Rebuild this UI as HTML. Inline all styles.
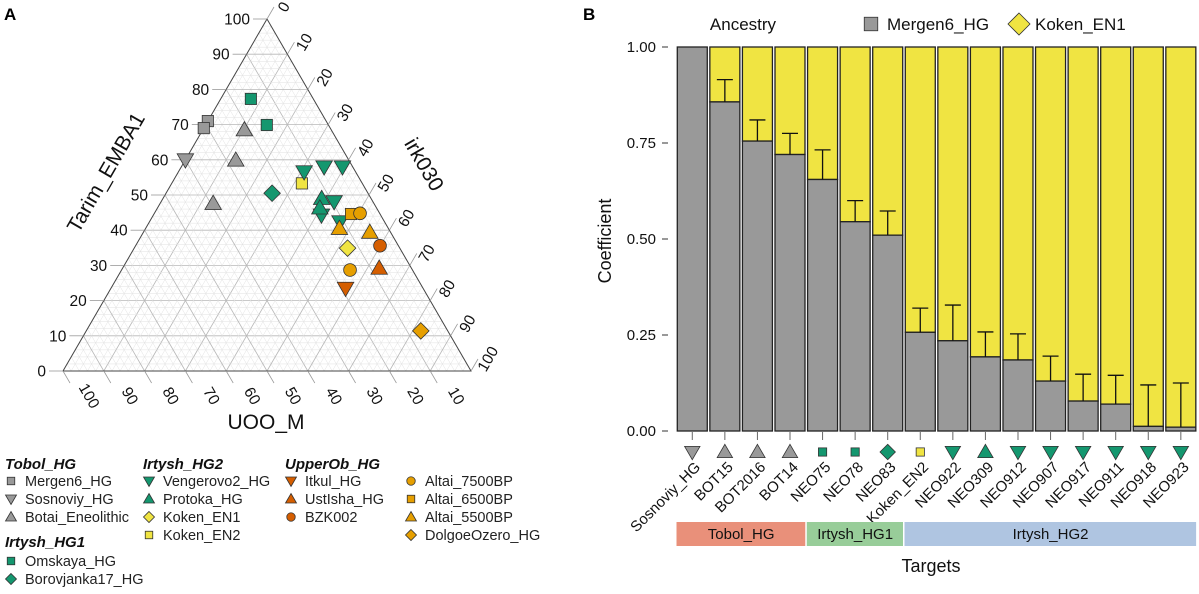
<!DOCTYPE html>
<html><head><meta charset="utf-8">
<style>
html,body{margin:0;padding:0;background:#fff;}
svg{display:block;font-family:"Liberation Sans",Arial,sans-serif;}
</style></head>
<body>
<svg id="fig" width="1199" height="594" viewBox="0 0 1199 594" xmlns="http://www.w3.org/2000/svg">
<text x="4" y="20" font-size="17" font-weight="bold">A</text>
<text x="583" y="20" font-size="17" font-weight="bold">B</text>
<g id="tern"></g>
<g id="bars"></g>
<g id="legA"></g>
</svg>
<script>
// ---------- Ternary data (Tarim_EMBA1 %, irk030 %) ----------
const ptGroups = ["Mergen6_HG","Mergen6_HG","Sosnoviy_HG","Botai_Eneolithic","Botai_Eneolithic","Botai_Eneolithic","Omskaya_HG","Omskaya_HG","Borovjanka17_HG","Koken_EN2","Vengerovo2_HG","Vengerovo2_HG","Vengerovo2_HG","Vengerovo2_HG","Vengerovo2_HG","Vengerovo2_HG","Protoka_HG","Protoka_HG","Altai_6500BP","Altai_7500BP","Altai_7500BP","Altai_5500BP","Altai_5500BP","Koken_EN1","BZK002","UstIsha_HG","Itkul_HG","DolgoeOzero_HG"];
const ptTarim = [71,69,60,68.5,59.9,47.6,77.3,69.9,50.5,53.3,56.6,58,58,48.1,44.3,42.4,49,46.3,44.6,44.8,28.7,40.5,39.4,34.9,35.6,29.2,23.5,11.4];
const ptIrk =   [0,0,0,10.2,12.4,13,7.4,15,26,31.9,30.8,35,39.5,42.4,41.2,46.7,38.9,39.8,48.3,50.4,56,47.5,55.5,52.3,59.9,62.9,57.5,82];

// ---------- Bar data ----------
const targets = ["Sosnoviy_HG","BOT15","BOT2016","BOT14","NEO75","NEO78","NEO83","Koken_EN2","NEO922","NEO309","NEO912","NEO907","NEO917","NEO911","NEO918","NEO923"];
const mergenShare = [1.0,0.857,0.755,0.72,0.655,0.545,0.51,0.257,0.235,0.193,0.185,0.13,0.078,0.07,0.012,0.01];
const errTop = [null,0.915,0.81,0.775,0.732,0.60,0.573,0.32,0.328,0.258,0.253,0.195,0.148,0.145,0.12,0.125];
const targetGroup = ["Sosnoviy_HG","Botai_Eneolithic","Botai_Eneolithic","Botai_Eneolithic","Omskaya_HG","Omskaya_HG","Borovjanka17_HG","Koken_EN2","Vengerovo2_HG","Protoka_HG","Vengerovo2_HG","Vengerovo2_HG","Vengerovo2_HG","Vengerovo2_HG","Vengerovo2_HG","Vengerovo2_HG"];
const yTicks = [0,0.25,0.5,0.75,1.0];
const yTickLabels = ["0.00","0.25","0.50","0.75","1.00"];
const bands = ["Tobol_HG","Irtysh_HG1","Irtysh_HG2"];
const bandCounts = [4,3,9];

const GRAY="#999999", GREEN="#14976f", YEL="#f0e442", ORG="#e69f00", RED="#d55e00";
const style = {
 "Mergen6_HG":["sq",GRAY],"Sosnoviy_HG":["dn",GRAY],"Botai_Eneolithic":["up",GRAY],
 "Omskaya_HG":["sq",GREEN],"Borovjanka17_HG":["di",GREEN],
 "Vengerovo2_HG":["dn",GREEN],"Protoka_HG":["up",GREEN],"Koken_EN1":["di",YEL],"Koken_EN2":["sq",YEL],
 "Itkul_HG":["dn",RED],"UstIsha_HG":["up",RED],"BZK002":["ci",RED],
 "Altai_7500BP":["ci",ORG],"Altai_6500BP":["sq",ORG],"Altai_5500BP":["up",ORG],"DolgoeOzero_HG":["di",ORG]
};
const NS="http://www.w3.org/2000/svg";
function mk(tag,attrs,parent){const e=document.createElementNS(NS,tag);for(const k in attrs)e.setAttribute(k,attrs[k]);parent.appendChild(e);return e;}
function marker(shape,fill,cx,cy,s,parent,stroke){
  stroke=stroke||"#333";let e;
  if(shape==="sq") e=mk("rect",{x:cx-s*0.75,y:cy-s*0.75,width:s*1.5,height:s*1.5,fill:fill,stroke:stroke,"stroke-width":0.8},parent);
  else if(shape==="ci") e=mk("circle",{cx:cx,cy:cy,r:s*0.85,fill:fill,stroke:stroke,"stroke-width":0.8},parent);
  else if(shape==="di") e=mk("polygon",{points:`${cx},${cy-s*1.1} ${cx+s*1.1},${cy} ${cx},${cy+s*1.1} ${cx-s*1.1},${cy}`,fill:fill,stroke:stroke,"stroke-width":0.8},parent);
  else if(shape==="up") e=mk("polygon",{points:`${cx},${cy-s*1.1} ${cx+s*1.1},${cy+s*0.8} ${cx-s*1.1},${cy+s*0.8}`,fill:fill,stroke:stroke,"stroke-width":0.8},parent);
  else e=mk("polygon",{points:`${cx},${cy+s*1.1} ${cx+s*1.1},${cy-s*0.8} ${cx-s*1.1},${cy-s*0.8}`,fill:fill,stroke:stroke,"stroke-width":0.8},parent);
  return e;
}

// ---------- Ternary ----------
const tern=document.getElementById("tern");
function tx(T,I){return 63+(T*204+I*408)/100;}
function ty(T,I){return 371-T*3.52;}
function line(x1,y1,x2,y2,c,w,p){return mk("line",{x1:x1,y1:y1,x2:x2,y2:y2,stroke:c,"stroke-width":w},p);}
for(let k=2;k<100;k+=2){
  const major=k%10===0;const c=major?"#b8b8b8":"#e2e2e2";const w=major?0.8:0.5;
  let l=line(tx(k,0),ty(k,0),tx(k,100-k),ty(k,100-k),c,w,tern);
  
  
  l=line(tx(0,k),ty(0,k),tx(100-k,k),ty(100-k,k),c,w,tern);
  
  
  l=line(tx(0,100-k),ty(0,100-k),tx(100-k,0),ty(100-k,0),c,w,tern);
  
  
}
const outline=mk("polygon",{points:`${tx(100,0)},${ty(100,0)} ${tx(0,0)},${ty(0,0)} ${tx(0,100)},${ty(0,100)}`,fill:"none",stroke:"#444","stroke-width":1},tern);


for(let k=0;k<=100;k+=10){
  let x=tx(k,0),y=ty(k,0);
  line(x,y,x-14,y,"#999",0.8,tern);
  let t=mk("text",{x:x-17,y:y+5.5,"font-size":15.5,"text-anchor":"end",fill:"#111"},tern);t.textContent=k;
  
  
  x=tx(100-k,k);y=ty(100-k,k);
  line(x,y,x+7,y-12,"#999",0.8,tern);
  t=mk("text",{x:0,y:0,"font-size":15.5,"text-anchor":"middle",fill:"#111",transform:`translate(${x+17},${y-12}) rotate(-60) translate(0,5)`},tern);t.textContent=k;
  
  
  if(k>0){x=tx(0,100-k);y=ty(0,100-k);
  line(x,y,x+7,y+12,"#999",0.8,tern);
  t=mk("text",{x:0,y:0,"font-size":15.5,"text-anchor":"middle",fill:"#111",transform:`translate(${x+26},${y+25}) rotate(60) translate(0,5)`},tern);t.textContent=k;
  
  }
}
let at=mk("text",{x:0,y:0,"font-size":21,"text-anchor":"middle",fill:"#111",transform:"translate(112,176) rotate(-60)"},tern);at.textContent="Tarim_EMBA1";


at=mk("text",{x:0,y:0,"font-size":21,"text-anchor":"middle",fill:"#111",transform:"translate(418,168) rotate(60)"},tern);at.textContent="irk030";


at=mk("text",{x:266,y:429,"font-size":21,"text-anchor":"middle",fill:"#111"},tern);at.textContent="UOO_M";


for(let i=0;i<ptTarim.length;i++){
  const st=style[ptGroups[i]];
  const m=marker(st[0],st[1],tx(ptTarim[i],ptIrk[i]),ty(ptTarim[i],ptIrk[i]),7.5,tern);
  
  
}

// ---------- Legend A ----------
const legA=document.getElementById("legA");
const legCols=[
 [5,[["h","Tobol_HG",469],["Mergen6_HG",486],["Sosnoviy_HG",504],["Botai_Eneolithic",522],["h","Irtysh_HG1",547],["Omskaya_HG",566],["Borovjanka17_HG",584]]],
 [143,[["h","Irtysh_HG2",469],["Vengerovo2_HG",486],["Protoka_HG",504],["Koken_EN1",522],["Koken_EN2",540]]],
 [285,[["h","UpperOb_HG",469],["Itkul_HG",486],["UstIsha_HG",504],["BZK002",522]]],
 [405,[["Altai_7500BP",486],["Altai_6500BP",504],["Altai_5500BP",522],["DolgoeOzero_HG",540]]]
];
for(const [x0,items] of legCols){
  for(const it of items){
    if(it[0]==="h"){const t=mk("text",{x:x0,y:it[2],"font-size":15,"font-weight":"bold","font-style":"italic",fill:"#111"},legA);t.textContent=it[1];
      
      }
    else{const st=style[it[0]];const m=marker(st[0],st[1],x0+6,it[1]-5,5,legA);
      
      
      const t=mk("text",{x:x0+20,y:it[1],"font-size":14.5,fill:"#222"},legA);t.textContent=it[0];
      
      }
  }
}

// ---------- Bar chart ----------
const bars=document.getElementById("bars");
const X0=676, SLOT=32.57, BW=30;
function yS(v){return 431-v*384;}
function xC(i){return X0+SLOT*i+SLOT/2;}
for(let i=0;i<yTicks.length;i++){
  const y=yS(yTicks[i]);line(662,y,668,y,"#333",1,bars);
  const t=mk("text",{x:656,y:y+5,"font-size":15,"text-anchor":"end",fill:"#111"},bars);t.textContent=yTickLabels[i];
  
  
}
for(let i=0;i<targets.length;i++){
  const cx=xC(i),x=cx-BW/2,v=mergenShare[i];
  const top=mk("rect",{x:x,y:yS(1),width:BW,height:yS(v)-yS(1),fill:YEL,stroke:"#222","stroke-width":1.3},bars);
  
  
  const b=mk("rect",{x:x,y:yS(v),width:BW,height:yS(0)-yS(v),fill:GRAY,stroke:"#222","stroke-width":1.3},bars);
  
  
  if(errTop[i]!==null){
    const e=mk("g",{},bars);
    
    
    line(cx,yS(v),cx,yS(errTop[i]),"#111",1.3,e);
    line(cx-8,yS(errTop[i]),cx+8,yS(errTop[i]),"#111",1.3,e);
  }
  line(cx,432,cx,440,"#666",1,bars);
  const st=style[targetGroup[i]];
  const m=marker(st[0],st[1],cx,452,st[0]==="sq"?5.5:7,bars);
  
  
  const t=mk("text",{x:0,y:0,"font-size":15,"text-anchor":"end",fill:"#111",transform:`translate(${cx+9},${468}) rotate(-45)`},bars);t.textContent=targets[i];
  
  
}
const bandCols=["#e9907a","#98cd99","#afc5e1"];
let start=0;
for(let j=0;j<bands.length;j++){
  const x1=X0+start*SLOT, w=bandCounts[j]*SLOT;
  const r=mk("rect",{x:x1+0.5,y:522,width:w-1.5,height:24,fill:bandCols[j]},bars);
  
  
  const t=mk("text",{x:x1+w/2,y:539,"font-size":15,"text-anchor":"middle",fill:"#111"},bars);t.textContent=bands[j];
  
  
  start+=bandCounts[j];
}
let tt=mk("text",{x:931,y:572,"font-size":18,"text-anchor":"middle",fill:"#111"},bars);tt.textContent="Targets";


tt=mk("text",{x:0,y:0,"font-size":18,"text-anchor":"middle",fill:"#111",transform:"translate(611,241) rotate(-90)"},bars);tt.textContent="Coefficient";


tt=mk("text",{x:743,y:30,"font-size":17,"text-anchor":"middle",fill:"#111"},bars);tt.textContent="Ancestry";


let lm=marker("sq",GRAY,871,24,9,bars);


tt=mk("text",{x:887,y:30,"font-size":17,fill:"#111"},bars);tt.textContent="Mergen6_HG";


lm=marker("di",YEL,1019,24,10,bars);


tt=mk("text",{x:1035,y:30,"font-size":17,fill:"#111"},bars);tt.textContent="Koken_EN1";


</script>
</body></html>
